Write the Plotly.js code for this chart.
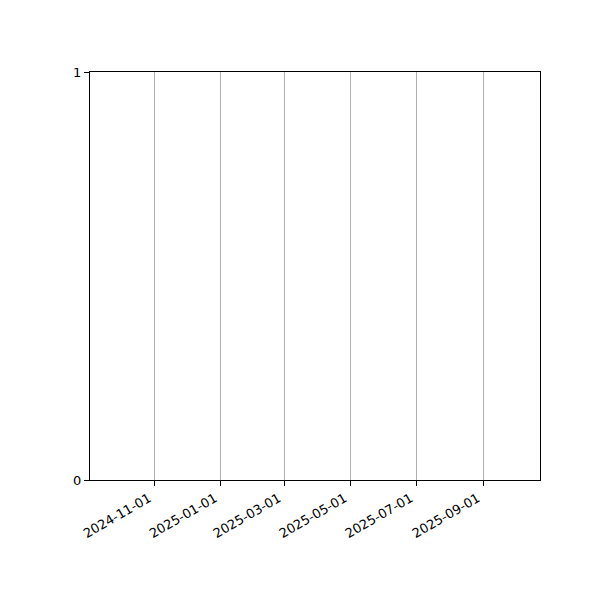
<!DOCTYPE html>
<html>
<head>
<meta charset="utf-8">
<script src="https://cdn.plot.ly/plotly-3.0.1.min.js"></script>
<style>html,body{margin:0;padding:0;background:#fff;}#chart{width:600px;height:600px;}</style>
</head>
<body>
<div id="chart"></div>
<script>
// Series data (the reference chart shows no plotted points)
const dates = [];
const values = [];
// Axis settings
const xTickDates = ["2024-11-01", "2025-01-01", "2025-03-01", "2025-05-01", "2025-07-01", "2025-09-01"];
const xRange = ["2024-09-02", "2025-10-23"];
const yTicks = [0, 1];
const yRange = [0, 1];

const trace = {
  x: dates,
  y: values,
  type: "scatter",
  mode: "lines",
  line: {color: "#1f77b4"},
  showlegend: false
};

const layout = {
  width: 600,
  height: 600,
  margin: {l: 90, r: 60, t: 72, b: 120, pad: 0},
  paper_bgcolor: "#ffffff",
  plot_bgcolor: "#ffffff",
  font: {family: "DejaVu Sans", size: 13, color: "#000000"},
  showlegend: false,
  xaxis: {
    type: "date",
    range: xRange,
    tickmode: "array",
    tickvals: xTickDates,
    ticktext: xTickDates,
    tickangle: -30,
    ticklabelshift: -6,
    ticks: "outside",
    ticklen: 5,
    tickwidth: 1,
    tickcolor: "#000",
    showgrid: true,
    gridcolor: "#b0b0b0",
    gridwidth: 1,
    showline: true,
    linecolor: "#000",
    linewidth: 1,
    mirror: true,
    zeroline: false,
    fixedrange: true
  },
  yaxis: {
    range: yRange,
    tickmode: "array",
    tickvals: yTicks,
    ticktext: yTicks.map(String),
    ticks: "outside",
    ticklen: 5,
    tickwidth: 1,
    tickcolor: "#000",
    showgrid: false,
    showline: true,
    linecolor: "#000",
    linewidth: 1,
    mirror: true,
    zeroline: false,
    fixedrange: true
  }
};

Plotly.newPlot("chart", [trace], layout, {staticPlot: true, displayModeBar: false});
</script>
</body>
</html>
